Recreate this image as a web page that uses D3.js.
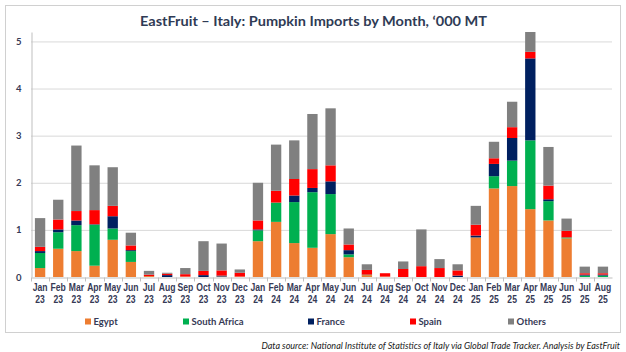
<!DOCTYPE html>
<html>
<head>
<meta charset="utf-8">
<script src="https://cdn.jsdelivr.net/npm/d3@7"></script>
<style>
  body { margin: 0; background: #fff; }
  svg { display: block; font-family: Lato, "Open Sans", sans-serif; }
</style>
</head>
<body>
<svg id="chart"></svg>
<script>
// Categories and values, '000 MT
const months = ['Jan', 'Feb', 'Mar', 'Apr', 'May', 'Jun', 'Jul', 'Aug', 'Sep', 'Oct', 'Nov', 'Dec',
                'Jan', 'Feb', 'Mar', 'Apr', 'May', 'Jun', 'Jul', 'Aug', 'Sep', 'Oct', 'Nov', 'Dec',
                'Jan', 'Feb', 'Mar', 'Apr', 'May', 'Jun', 'Jul', 'Aug']
const years = ['23', '23', '23', '23', '23', '23', '23', '23', '23', '23', '23', '23',
               '24', '24', '24', '24', '24', '24', '24', '24', '24', '24', '24', '24',
               '25', '25', '25', '25', '25', '25', '25', '25']

const egypt = [0.19, 0.60, 0.55, 0.24, 0.79, 0.32, 0.02, 0, 0.01, 0, 0.01, 0.01,
               0.76, 1.17, 0.72, 0.62, 0.91, 0.42, 0.04, 0.01, 0, 0, 0, 0,
               0.84, 1.88, 1.93, 1.44, 1.20, 0.82, 0, 0]
const southAfrica = [0.32, 0.35, 0.55, 0.87, 0.24, 0.23, 0, 0, 0, 0, 0, 0,
                     0.23, 0.41, 0.87, 1.18, 0.85, 0.06, 0.01, 0, 0, 0, 0, 0,
                     0, 0.26, 0.54, 1.46, 0.41, 0.02, 0.03, 0.03]
const france = [0.04, 0.06, 0.10, 0.01, 0.26, 0.02, 0, 0.04, 0, 0.04, 0.02, 0,
                0.02, 0, 0.14, 0.09, 0.27, 0.09, 0, 0, 0, 0, 0, 0.03,
                0.04, 0.26, 0.48, 1.74, 0.04, 0, 0.02, 0.02]
const spain = [0.09, 0.21, 0.20, 0.30, 0.22, 0.10, 0.03, 0.03, 0.05, 0.09, 0.11, 0.08,
               0.19, 0.25, 0.35, 0.40, 0.34, 0.12, 0.10, 0.07, 0.17, 0.23, 0.19, 0.11,
               0.23, 0.12, 0.23, 0.14, 0.29, 0.14, 0.03, 0.03]
const others = [0.61, 0.42, 1.39, 0.95, 0.82, 0.27, 0.08, 0.02, 0.13, 0.63, 0.57, 0.07,
                0.80, 0.98, 0.82, 1.17, 1.21, 0.34, 0.12, 0, 0.16, 0.78, 0.19, 0.13,
                0.40, 0.35, 0.54, 0.42, 0.82, 0.26, 0.14, 0.14]

const seriesNames = ['Egypt', 'South Africa', 'France', 'Spain', 'Others']
const seriesColors = ['#ED7D31', '#00B050', '#002060', '#FF0000', '#808080']
const yTicks = [0, 1, 2, 3, 4, 5]

const title = 'EastFruit \u2013 Italy: Pumpkin Imports by Month, \u2018000 MT'
const sourceNote = 'Data source: National Institute of Statistics of Italy via  Global Trade Tracker. Analysis by EastFruit'

// Layout
const fullWidth = 626
const fullHeight = 352
const margin = { top: 32, right: 14, bottom: 75, left: 31 }
const textColor = '#363a56'

const table = months.map((m, i) => ({
    key: m + ' ' + years[i],
    month: m,
    year: years[i],
    Egypt: egypt[i],
    'South Africa': southAfrica[i],
    France: france[i],
    Spain: spain[i],
    Others: others[i]
}))

const svg = d3.select('#chart')
    .attr('width', fullWidth)
    .attr('height', fullHeight)

// outer frame
svg.append('rect')
    .attr('x', 5.5).attr('y', 5.5)
    .attr('width', 615).attr('height', 327)
    .attr('fill', '#fff')
    .attr('stroke', '#d0d0d0')

svg.append('text')
    .attr('x', 140).attr('y', 25.5)
    .attr('font-size', 13.5)
    .attr('font-weight', 'bold')
    .attr('fill', '#2f3b55')
    .attr('textLength', 347)
    .attr('lengthAdjust', 'spacingAndGlyphs')
    .text(title)

const xScale = d3.scaleBand()
    .domain(table.map(d => d.key))
    .range([margin.left, fullWidth - margin.right])
    .paddingInner(0.43)
    .paddingOuter(0.215)

const yScale = d3.scaleLinear()
    .domain([0, 5.2])
    .range([fullHeight - margin.bottom, margin.top])

const colorScale = d3.scaleOrdinal().domain(seriesNames).range(seriesColors)

// gridlines
svg.append('g')
    .selectAll('line')
    .data(yTicks.slice(1))
    .join('line')
    .attr('x1', margin.left).attr('x2', fullWidth - margin.right)
    .attr('y1', d => yScale(d) + 0.5).attr('y2', d => yScale(d) + 0.5)
    .attr('stroke', '#d9d9d9')

// bars
const stack = d3.stack().keys(seriesNames)
svg.append('g')
    .selectAll('g')
    .data(stack(table))
    .join('g')
    .attr('fill', d => colorScale(d.key))
    .selectAll('rect')
    .data(d => d)
    .join('rect')
    .attr('x', d => xScale(d.data.key))
    .attr('width', xScale.bandwidth())
    .attr('y', d => yScale(d[1]))
    .attr('height', d => yScale(d[0]) - yScale(d[1]))

// y axis
const yAxis = d3.axisLeft(yScale).tickValues(yTicks).tickFormat(d3.format('d')).tickSize(0).tickPadding(10)
const yg = svg.append('g')
    .attr('transform', `translate(${margin.left + 0.5},0)`)
    .call(yAxis)
yg.select('.domain').attr('stroke', '#bfbfbf')
yg.selectAll('text')
    .attr('font-family', 'Lato, sans-serif')
    .attr('font-size', 9.5)
    .attr('font-weight', 'bold')
    .attr('fill', textColor)

// x axis
const xAxis = d3.axisBottom(xScale).tickSize(0).tickFormat(() => '')
const xg = svg.append('g')
    .attr('transform', `translate(0,${yScale(0) + 0.5})`)
    .call(xAxis)
xg.select('.domain').attr('stroke', '#bfbfbf')

// boundary ticks between categories
const half = xScale.step() * xScale.paddingInner() / 2
xg.append('g')
    .selectAll('line')
    .data(table)
    .join('line')
    .attr('x1', d => Math.round(xScale(d.key) - half) + 0.5)
    .attr('x2', d => Math.round(xScale(d.key) - half) + 0.5)
    .attr('y1', 0).attr('y2', 4)
    .attr('stroke', '#bfbfbf')

// two-line month labels, squeezed a little like the source font
const labels = xg.append('g')
    .selectAll('g')
    .data(table)
    .join('g')
    .attr('transform', d => `translate(${xScale(d.key) + xScale.bandwidth() / 2},0) scale(0.86,1)`)
const labelText = labels.append('text')
    .attr('text-anchor', 'middle')
    .attr('font-size', 10)
    .attr('font-weight', 'bold')
    .attr('fill', textColor)
labelText.append('tspan').attr('x', 0).attr('y', 14).text(d => d.month)
labelText.append('tspan').attr('x', 0).attr('y', 25.5).text(d => d.year)

// legend
const legendX = [85, 183, 308, 410, 508]
const legend = svg.append('g')
    .selectAll('g')
    .data(seriesNames)
    .join('g')
    .attr('transform', (d, i) => `translate(${legendX[i]},325)`)
legend.append('rect')
    .attr('x', 0).attr('y', -6.5)
    .attr('width', 6).attr('height', 6)
    .attr('fill', d => colorScale(d))
legend.append('text')
    .attr('x', 8.5).attr('y', 0)
    .attr('font-size', 9.5)
    .attr('font-weight', 'bold')
    .attr('fill', textColor)
    .text(d => d)

svg.append('text')
    .attr('x', 620).attr('y', 348.5)
    .attr('text-anchor', 'end')
    .attr('font-size', 9)
    .attr('font-style', 'italic')
    .attr('fill', '#222')
    .text(sourceNote)
</script>
</body>
</html>
